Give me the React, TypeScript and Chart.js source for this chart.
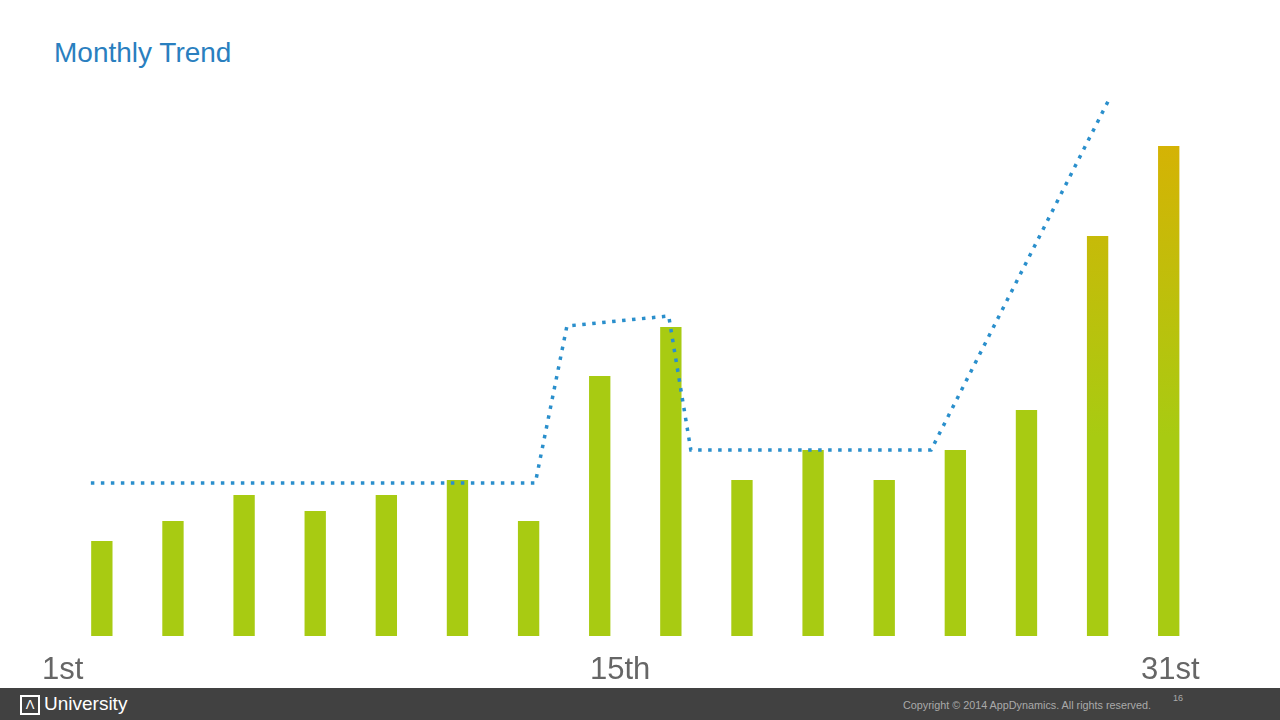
import { useEffect, useRef } from "react";
import { Chart, registerables } from "chart.js";

Chart.register(...registerables);

const days = ["1", "2", "3", "4", "5", "6", "7", "8", "9", "10", "11", "12", "13", "14", "15", "16"];
const barValues = [95, 115, 141, 125, 141, 156, 115, 260, 309, 156, 186, 156, 186, 226, 400, 490];
const trendX = [-0.83, 6.2, 6.7, 8.31, 8.66, 12.46, 15.27];
const trendY = [153, 153, 310, 320, 186, 186, 536];
const axisLabels = [
  { text: "1st", left: 42 },
  { text: "15th", left: 590 },
  { text: "31st", left: 1141 },
];

const App = () => {
  const canvasRef = useRef(null);
  const chartRef = useRef(null);

  useEffect(() => {
    if (chartRef.current) chartRef.current.destroy();
    const ctx = canvasRef.current.getContext("2d");
    chartRef.current = new Chart(ctx, {
      type: "bar",
      data: {
        labels: days,
        datasets: [
          {
            type: "line",
            data: trendX.map((x, i) => ({ x, y: trendY[i] })),
            xAxisID: "x2",
            borderColor: "#2a8fcc",
            borderWidth: 3.5,
            borderDash: [3.5, 6.5],
            pointRadius: 0,
            fill: false,
            clip: false,
            order: 0,
          },
          {
            type: "bar",
            data: barValues,
            xAxisID: "x",
            barPercentage: 0.6,
            categoryPercentage: 1,
            order: 1,
            backgroundColor: (c) => {
              const { chart, dataIndex } = c;
              const area = chart.chartArea;
              if (!area || dataIndex < 14) return "#a8cb12";
              const g = chart.ctx.createLinearGradient(0, area.top + 40, 0, area.bottom - 200);
              g.addColorStop(0, "#d6b204");
              g.addColorStop(1, "#a8cb12");
              return g;
            },
          },
        ],
      },
      options: {
        animation: false,
        responsive: false,
        layout: { padding: { left: 48.5, right: 93.5, top: 96, bottom: 84 } },
        plugins: { legend: { display: false }, tooltip: { enabled: false } },
        scales: {
          x: { type: "category", display: false, offset: true },
          x2: { type: "linear", display: false, min: -0.5, max: 15.5 },
          y: { display: false, min: 0, max: 540 },
        },
      },
    });
    return () => {
      if (chartRef.current) chartRef.current.destroy();
    };
  }, []);

  return (
    <div style={{ position: "absolute", left: 0, top: 0, width: 1280, height: 720, background: "#fff", fontFamily: "Liberation Sans, Arial, sans-serif", overflow: "hidden" }}>
      <div style={{ position: "absolute", left: 54, top: 37, fontSize: 28, color: "#2a7fbf" }}>Monthly Trend</div>
      <canvas ref={canvasRef} width={1280} height={720} style={{ position: "absolute", left: 0, top: 0 }} />
      {axisLabels.map((l) => (
        <div key={l.text} style={{ position: "absolute", left: l.left, top: 651, fontSize: 31, color: "#666" }}>{l.text}</div>
      ))}
      <div style={{ position: "absolute", left: 0, top: 688, width: 1280, height: 32, background: "#414141" }}>
        <div style={{ position: "absolute", left: 20, top: 7, width: 16, height: 16, border: "2px solid #fff", color: "#fff", fontSize: 13, lineHeight: "16px", textAlign: "center" }}>Λ</div>
        <div style={{ position: "absolute", left: 44, top: 5, color: "#fff", fontSize: 19 }}>University</div>
        <div style={{ position: "absolute", left: 903, top: 11, color: "#aaa", fontSize: 10.8 }}>Copyright © 2014 AppDynamics. All rights reserved.</div>
        <div style={{ position: "absolute", left: 1173, top: 5, color: "#aaa", fontSize: 9 }}>16</div>
      </div>
    </div>
  );
};

export default App;
